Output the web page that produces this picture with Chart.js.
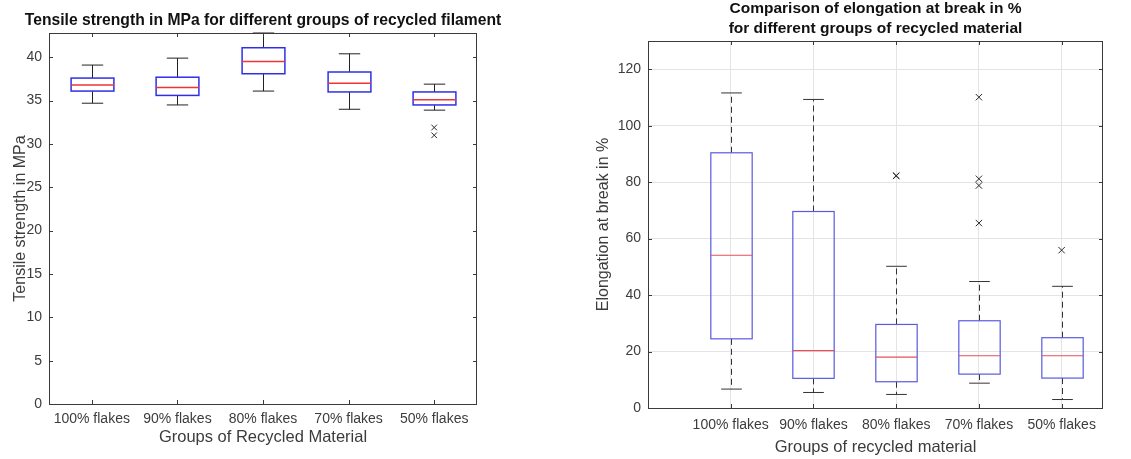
<!DOCTYPE html>
<html>
<head>
<meta charset="utf-8">
<title>Recycled filament box plots</title>
<script src="https://cdn.jsdelivr.net/npm/chart.js@4.4.1/dist/chart.umd.min.js"></script>
<style>
  body { margin: 0; background: #fff; width: 1131px; height: 459px; overflow: hidden; position: relative; }
  .panel { position: absolute; top: 0; height: 459px; }
  #leftPanel { left: 0; width: 570px; }
  #rightPanel { left: 570px; width: 561px; }
</style>
</head>
<body>
<div class="panel" id="leftPanel"><canvas id="tensileChart" width="570" height="459"></canvas></div>
<div class="panel" id="rightPanel"><canvas id="elongChart" width="561" height="459"></canvas></div>
<script>
// categories
const groups = ['100% flakes', '90% flakes', '80% flakes', '70% flakes', '50% flakes'];

// tensile strength in MPa
const tensileLow = [34.7, 34.5, 36.1, 34.0, 33.9];
const tensileQ1 = [36.1, 35.6, 38.1, 36.0, 34.5];
const tensileMedian = [36.8, 36.5, 39.5, 37.0, 35.1];
const tensileQ3 = [37.6, 37.7, 41.1, 38.3, 36.0];
const tensileHigh = [39.1, 39.9, 42.8, 40.4, 36.9];
const tensileOutliers = [[], [], [], [], [31.9, 31.0]];
const tensileTicks = [0, 5, 10, 15, 20, 25, 30, 35, 40];

// elongation at break in %
const elongLow = [6.7, 5.5, 4.8, 8.8, 3.0];
const elongQ1 = [24.5, 10.5, 9.3, 12.0, 10.6];
const elongMedian = [54.1, 20.3, 18.0, 18.5, 18.5];
const elongQ3 = [90.4, 69.6, 29.6, 30.9, 24.9];
const elongHigh = [111.6, 109.3, 50.2, 44.8, 43.1];
const elongOutliers = [[], [], [82.3, 82.2], [110.1, 81.2, 78.8, 65.5], [55.9]];
const elongTicks = [0, 20, 40, 60, 80, 100, 120];

const fontFamily = "'Liberation Sans', Arial, sans-serif";
Chart.defaults.font.family = fontFamily;
Chart.defaults.color = '#3c3c3c';

const textColor = '#3c3c3c';
const frameColor = '#3a3a3a';

function outlierPoints(list) {
  const pts = [];
  list.forEach((vals, i) => vals.forEach(v => pts.push({ x: i + 1, y: v })));
  return pts;
}

// draws boxes, medians and whiskers through the chart's scales
const boxPlot = {
  id: 'boxPlot',
  beforeDatasetsDraw(chart, args, opts) {
    const { ctx, scales: { x, y } } = chart;
    const s = opts.stats;
    const line = (x1, y1, x2, y2) => {
      ctx.beginPath();
      ctx.moveTo(x1, y1);
      ctx.lineTo(x2, y2);
      ctx.stroke();
    };
    ctx.save();
    groups.forEach((g, i) => {
      const cx = Math.round(x.getPixelForValue(i + 1)) + 0.5;
      const half = x.getPixelForValue(i + 1 + opts.boxWidth / 2) - x.getPixelForValue(i + 1);
      const capHalf = half / 2;
      const yLo = y.getPixelForValue(s.low[i]);
      const yQ1 = y.getPixelForValue(s.q1[i]);
      const yMed = y.getPixelForValue(s.median[i]);
      const yQ3 = y.getPixelForValue(s.q3[i]);
      const yHi = y.getPixelForValue(s.high[i]);

      // whiskers
      ctx.strokeStyle = opts.whiskerColor;
      ctx.lineWidth = 1;
      ctx.setLineDash(opts.whiskerDash);
      line(cx, yQ3, cx, yHi);
      line(cx, yQ1, cx, yLo);
      ctx.setLineDash([]);
      line(cx - capHalf, yHi, cx + capHalf, yHi);
      line(cx - capHalf, yLo, cx + capHalf, yLo);

      // box
      ctx.strokeStyle = opts.boxColor;
      ctx.lineWidth = opts.boxLine;
      ctx.strokeRect(cx - half, yQ3, half * 2, yQ1 - yQ3);

      // median
      ctx.strokeStyle = opts.medianColor;
      line(cx - half, yMed, cx + half, yMed);
    });
    ctx.restore();
  }
};

// full box frame with inward tick marks
const frame = {
  id: 'frame',
  afterDraw(chart) {
    const { ctx, chartArea: a, scales: { x, y } } = chart;
    const len = 4;
    ctx.save();
    ctx.strokeStyle = frameColor;
    ctx.lineWidth = 1;
    ctx.strokeRect(a.left + 0.5, a.top + 0.5, a.right - a.left - 1, a.bottom - a.top);
    ctx.beginPath();
    x.ticks.forEach(t => {
      const px = Math.round(x.getPixelForValue(t.value)) + 0.5;
      ctx.moveTo(px, a.bottom); ctx.lineTo(px, a.bottom - len);
      ctx.moveTo(px, a.top); ctx.lineTo(px, a.top + len);
    });
    y.ticks.forEach(t => {
      const py = Math.round(y.getPixelForValue(t.value)) + 0.5;
      ctx.moveTo(a.left, py); ctx.lineTo(a.left + len, py);
      ctx.moveTo(a.right, py); ctx.lineTo(a.right - len, py);
    });
    ctx.stroke();
    ctx.restore();
  }
};

// bold title centred over the plot area, allowed to run past its edges
const plotTitle = {
  id: 'plotTitle',
  afterDraw(chart, args, opts) {
    const { ctx, chartArea: a } = chart;
    ctx.save();
    ctx.font = `bold ${opts.size}px ${fontFamily}`;
    ctx.fillStyle = '#111';
    ctx.textAlign = 'center';
    ctx.textBaseline = 'middle';
    opts.lines.forEach((t, i) => ctx.fillText(t, (a.left + a.right) / 2, opts.y + i * opts.lineGap));
    ctx.restore();
  }
};

function makeChart(canvasId, cfg) {
  return new Chart(document.getElementById(canvasId), {
    type: 'scatter',
    data: {
      datasets: [{
        data: outlierPoints(cfg.outliers),
        pointStyle: 'crossRot',
        pointRadius: cfg.markerRadius,
        pointHoverRadius: cfg.markerRadius,
        borderColor: '#2a2a2a',
        borderWidth: 1,
        backgroundColor: 'transparent'
      }]
    },
    options: {
      responsive: false,
      animation: false,
      devicePixelRatio: 1,
      layout: { padding: { left: 0, right: cfg.padRight, top: cfg.padTop, bottom: 0 } },
      plugins: {
        legend: { display: false },
        tooltip: { enabled: false },
        title: { display: false },
        plotTitle: {
          lines: cfg.title,
          size: cfg.titleSize,
          y: cfg.titleY,
          lineGap: 19.3
        },
        boxPlot: {
          stats: cfg.stats,
          boxWidth: 0.5,
          boxColor: cfg.boxColor,
          boxLine: cfg.boxLine,
          medianColor: cfg.medianColor,
          whiskerColor: cfg.whiskerColor,
          whiskerDash: cfg.whiskerDash
        }
      },
      scales: {
        x: {
          type: 'linear',
          min: cfg.xMin,
          max: 5.5,
          afterBuildTicks: s => { s.ticks = groups.map((g, i) => ({ value: i + 1 })); },
          afterFit: s => { s.height = cfg.xHeight; },
          grid: { display: cfg.grid, color: '#e4e4e4', drawTicks: false },
          border: { display: false },
          ticks: {
            autoSkip: false,
            maxRotation: 0,
            padding: cfg.xTickPad,
            color: textColor,
            font: { size: 14 },
            callback: v => groups[Math.round(v) - 1]
          },
          title: {
            display: true,
            text: cfg.xTitle,
            color: textColor,
            font: { size: 16.5 },
            padding: { top: 0, bottom: cfg.xTitlePad }
          }
        },
        y: {
          min: 0,
          max: cfg.yMax,
          afterBuildTicks: s => { s.ticks = cfg.yTicks.map(v => ({ value: v })); },
          afterFit: s => { s.width = cfg.yWidth; },
          grid: { display: cfg.grid, color: '#e4e4e4', drawTicks: false },
          border: { display: false },
          ticks: { padding: 7, color: textColor, font: { size: 14 } },
          title: {
            display: true,
            text: cfg.yTitle,
            color: textColor,
            font: { size: 16 },
            padding: { top: cfg.yTitlePad, bottom: 0 }
          }
        }
      }
    },
    plugins: [boxPlot, frame, plotTitle]
  });
}

makeChart('tensileChart', {
  title: ['Tensile strength in MPa for different groups of recycled filament'],
  titleSize: 15.7,
  titleY: 21,
  padTop: 33,
  stats: { low: tensileLow, q1: tensileQ1, median: tensileMedian, q3: tensileQ3, high: tensileHigh },
  outliers: tensileOutliers,
  markerRadius: 4,
  boxColor: '#2f2fe8',
  boxLine: 1.5,
  medianColor: '#f03434',
  whiskerColor: '#222',
  whiskerDash: [],
  grid: false,
  xMin: 0.5,
  xHeight: 55,
  xTickPad: 7,
  xTitle: 'Groups of Recycled Material',
  xTitlePad: 11.6,
  yMax: 42.8,
  yTicks: tensileTicks,
  yWidth: 49,
  yTitle: 'Tensile strength in MPa',
  yTitlePad: 10.5,
  padRight: 93
});

makeChart('elongChart', {
  title: ['Comparison of elongation at break in %', 'for different groups of recycled material'],
  titleSize: 15.5,
  titleY: 9,
  padTop: 41,
  stats: { low: elongLow, q1: elongQ1, median: elongMedian, q3: elongQ3, high: elongHigh },
  outliers: elongOutliers,
  markerRadius: 4.5,
  boxColor: '#5a5ae0',
  boxLine: 1.2,
  medianColor: '#e5505e',
  whiskerColor: '#333',
  whiskerDash: [6, 4],
  grid: true,
  xMin: 0,
  xHeight: 51,
  xTickPad: 9,
  xTitle: 'Groups of recycled material',
  xTitlePad: 1.8,
  yMax: 130,
  yTicks: elongTicks,
  yWidth: 78,
  yTitle: 'Elongation at break in %',
  yTitlePad: 24.4,
  padRight: 28
});
</script>
</body>
</html>
